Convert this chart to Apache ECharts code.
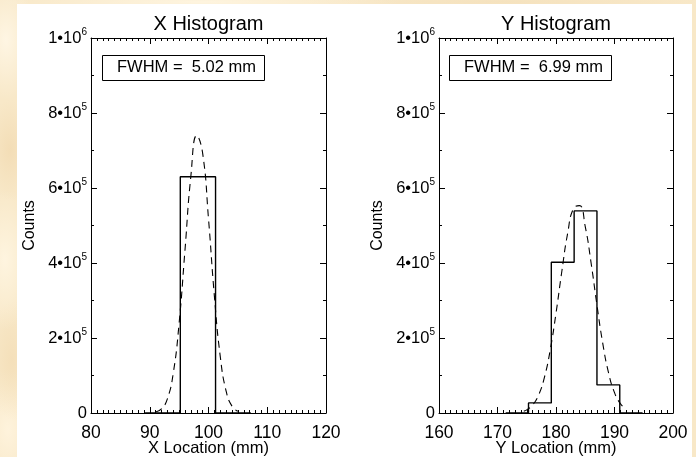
<!DOCTYPE html>
<html>
<head>
<meta charset="utf-8">
<script src="https://cdn.jsdelivr.net/npm/echarts@6/dist/echarts.min.js"></script>
<style>
  html, body { margin:0; padding:0; }
  body {
    width:696px; height:457px; overflow:hidden; position:relative;
    background-color:#f8e8c8;
    background-image:
      radial-gradient(ellipse 30px 60px at 6px 40px, rgba(255,247,230,0.9), rgba(255,247,230,0)),
      radial-gradient(ellipse 25px 50px at 10px 150px, rgba(240,214,170,0.6), rgba(240,214,170,0)),
      radial-gradient(ellipse 30px 70px at 5px 260px, rgba(255,246,226,0.9), rgba(255,246,226,0)),
      radial-gradient(ellipse 25px 60px at 12px 360px, rgba(242,218,176,0.6), rgba(242,218,176,0)),
      radial-gradient(ellipse 30px 60px at 8px 430px, rgba(255,244,222,0.9), rgba(255,244,222,0)),
      radial-gradient(ellipse 200px 10px at 200px 2px, rgba(255,246,226,0.9), rgba(255,246,226,0)),
      radial-gradient(ellipse 200px 10px at 500px 2px, rgba(242,220,180,0.5), rgba(242,220,180,0));
  }
  #paper { position:absolute; left:17px; top:4px; width:675px; height:453px; background:#ffffff; }
  #chart { position:absolute; left:0; top:0; width:696px; height:457px; }
</style>
</head>
<body>
<div id="paper"></div>
<div id="chart"></div>
<script>
// ---- data ----
const xTitle = 'X Histogram';
const yTitle = 'Y Histogram';
const xLabelName = 'X Location (mm)';
const yLabelName = 'Y Location (mm)';
const countsName = 'Counts';
const xFwhmText = 'FWHM =  5.02 mm';
const yFwhmText = 'FWHM =  6.99 mm';

// X histogram (bin edges in mm, counts per bin)
const xBinEdges = [89.2, 95.2, 101.2, 107.2];
const xCounts   = [0, 630000, 0];
// X gaussian fit (dashed)
const xFitX = [91, 92, 93, 94, 95, 96, 97, 98, 99, 100, 101, 102, 103, 104, 105];
const xFitY = [2500, 10700, 37700, 106000, 240000, 435000, 632000, 740000, 693000, 518000, 312000, 151000, 58400, 18200, 4500];

// Y histogram
const yBinEdges = [171.4, 175.3, 179.2, 183.1, 187.0, 190.9, 194.8];
const yCounts   = [0, 27000, 402000, 539000, 75000, 0];
// Y gaussian fit (dashed)
const yFitX = [174.5, 175, 176, 177, 178, 179, 180, 181, 182, 183, 184, 185, 186, 187, 188, 189, 190, 191, 192];
const yFitY = [5000, 8400, 21000, 47000, 93800, 167000, 266000, 378000, 480000, 546000, 553000, 497000, 400000, 288000, 185000, 106000, 54400, 24900, 10200];

// axis ranges / ticks
const xRange = [80, 120];
const yLocRange = [160, 200];
const xTickStep = 10;
const countRange = [0, 1000000];
const countStep = 200000;

// ---- helpers ----
const FONT = '"Liberation Sans", Arial, Helvetica, sans-serif';
function stepPoints(edges, counts) {
  const pts = [];
  for (let i = 0; i < counts.length; i++) {
    pts.push([edges[i], counts[i]]);
    pts.push([edges[i + 1], counts[i]]);
  }
  return pts;
}
function pairs(xs, ys) { return xs.map((x, i) => [x, ys[i]]); }
function sciLabel(v) {
  if (v === 0) return '{m|0}';
  const e = Math.floor(Math.log10(v) + 1e-9);
  const m = Math.round(v / Math.pow(10, e));
  return '{m|' + m + '\u202210}{s|' + e + '}';
}

const black = '#000';
function xAxisDef(grid, range, pos, name) {
  const bottom = pos === 'bottom';
  return {
    type: 'value', gridIndex: grid, position: pos, min: range[0], max: range[1], interval: xTickStep,
    axisLine: { show: true, onZero: false, lineStyle: { color: black, width: 1 } },
    axisTick: { show: true, inside: true, length: 6, lineStyle: { color: black, width: 1 } },
    minorTick: { show: true, splitNumber: 10, length: 3, lineStyle: { color: black, width: 1 } },
    splitLine: { show: false },
    axisLabel: { show: bottom, margin: 11, fontSize: 17.5, color: black, fontFamily: FONT },
    name: name, nameLocation: 'middle', nameGap: bottom ? 27 : 4, nameMoveOverlap: false,
    nameTextStyle: { fontSize: bottom ? 16.5 : 20, color: black, fontFamily: FONT }
  };
}
function yAxisDef(grid, pos) {
  const left = pos === 'left';
  return {
    type: 'value', gridIndex: grid, position: pos, min: countRange[0], max: countRange[1], interval: countStep,
    axisLine: { show: true, onZero: false, lineStyle: { color: black, width: 1 } },
    axisTick: { show: true, inside: true, length: 6, lineStyle: { color: black, width: 1 } },
    minorTick: { show: true, splitNumber: 2, length: 3, lineStyle: { color: black, width: 1 } },
    splitLine: { show: false },
    axisLabel: {
      show: left, margin: 4, formatter: sciLabel, color: black,
      rich: {
        m: { fontSize: 16.5, lineHeight: 22, verticalAlign: 'middle', color: black, fontFamily: FONT },
        s: { fontSize: 10, lineHeight: 10, verticalAlign: 'top', color: black, fontFamily: FONT }
      }
    },
    name: left ? countsName : '', nameLocation: 'middle', nameGap: 53, nameMoveOverlap: false,
    nameTextStyle: { fontSize: 16, color: black, fontFamily: FONT }
  };
}
function boxTitle(text, left) {
  return {
    text: text, left: left, top: 55, padding: [4, 9, 5, 15],
    borderColor: black, borderWidth: 1,
    textStyle: { fontSize: 16.5, fontWeight: 'normal', color: black, fontFamily: FONT, lineHeight: 17 }
  };
}

const chart = echarts.init(document.getElementById('chart'), null, { renderer: 'canvas' });
chart.setOption({
  animation: false,
  backgroundColor: 'transparent',
  title: [boxTitle(xFwhmText, 102), boxTitle(yFwhmText, 449)],
  grid: [
    { left: 91, top: 38, width: 235, height: 375, containLabel: false, outerBoundsMode: 'none' },
    { left: 439, top: 38, width: 234, height: 375, containLabel: false, outerBoundsMode: 'none' }
  ],
  xAxis: [
    xAxisDef(0, xRange, 'bottom', xLabelName),
    xAxisDef(0, xRange, 'top', xTitle),
    xAxisDef(1, yLocRange, 'bottom', yLabelName),
    xAxisDef(1, yLocRange, 'top', yTitle)
  ],
  yAxis: [
    yAxisDef(0, 'left'), yAxisDef(0, 'right'),
    yAxisDef(1, 'left'), yAxisDef(1, 'right')
  ],
  series: [
    { type: 'line', xAxisIndex: 0, yAxisIndex: 0, data: pairs(xFitX, xFitY), smooth: true, symbol: 'none',
      lineStyle: { color: black, width: 1.1, type: [7, 5] }, z: 2 },
    { type: 'line', xAxisIndex: 0, yAxisIndex: 0, data: stepPoints(xBinEdges, xCounts), symbol: 'none',
      lineStyle: { color: black, width: 1.4 }, z: 3 },
    { type: 'line', xAxisIndex: 2, yAxisIndex: 2, data: pairs(yFitX, yFitY), smooth: true, symbol: 'none',
      lineStyle: { color: black, width: 1.1, type: [7, 5] }, z: 2 },
    { type: 'line', xAxisIndex: 2, yAxisIndex: 2, data: stepPoints(yBinEdges, yCounts), symbol: 'none',
      lineStyle: { color: black, width: 1.4 }, z: 3 }
  ]
});
</script>
</body>
</html>
